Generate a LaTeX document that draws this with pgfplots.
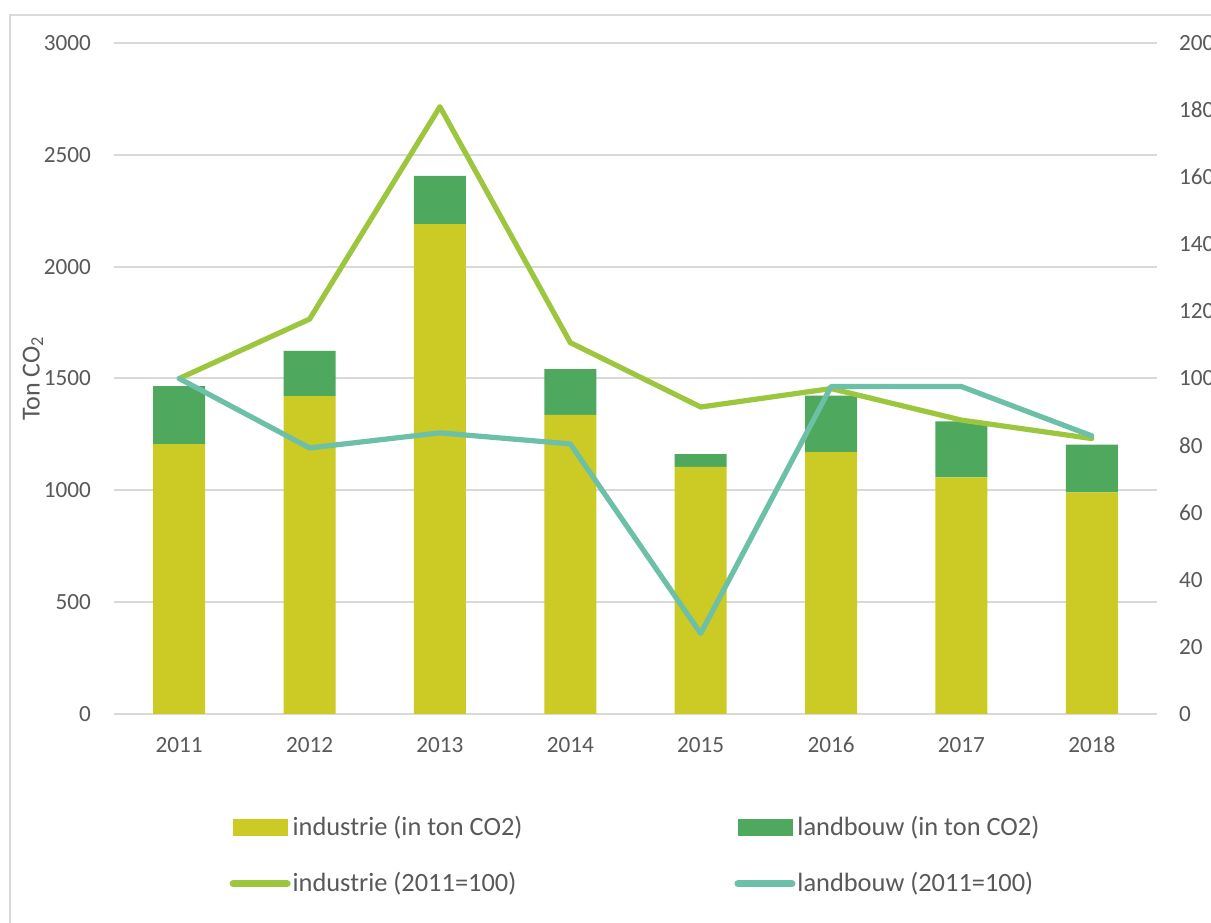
\documentclass[border=0pt]{standalone}
\usepackage{pgfplots}
\pgfplotsset{compat=1.18}
\usepackage{fontspec}
\setmainfont{Carlito}
\definecolor{ind}{HTML}{CCCA24}
\definecolor{lan}{HTML}{4EA85E}
\definecolor{indl}{HTML}{9DC63F}
\definecolor{lanl}{HTML}{6CC0A8}
\definecolor{txt}{HTML}{595959}
\definecolor{gridc}{HTML}{D9D9D9}
\begin{document}
\begin{tikzpicture}
\useasboundingbox (0,0) rectangle (605.5pt,461pt);
\clip (0,0) rectangle (605.5pt,461pt);
\fill[white] (0,0) rectangle (605.5pt,461pt);
\draw[gridc, line width=1pt] (5pt,-20pt) -- (5pt,453.5pt) -- (640pt,453.5pt);
\begin{axis}[
 at={(57pt,104pt)}, anchor=south west,
 scale only axis, width=521.5pt, height=335.5pt,
 xmin=-0.5, xmax=7.5, ymin=0, ymax=3000,
 ybar stacked, bar width=26pt,
 xtick={0,1,2,3,4,5,6,7},
 xticklabels={2011,2012,2013,2014,2015,2016,2017,2018},
 ytick={0,500,1000,1500,2000,2500,3000},
 axis y line*=left, axis x line*=bottom,
 axis line style={draw=none},
 major tick length=0pt,
 ymajorgrids, grid style={gridc, line width=1pt},
 tick label style={font=\fontsize{11.6}{14}\selectfont, text=txt},
 /pgf/number format/assume math mode=true,
 /pgf/number format/1000 sep={},
 yticklabel style={xshift=-8pt},
 xticklabel style={yshift=-8pt},
 ylabel={Ton CO\textsubscript{2}},
 ylabel style={font=\fontsize{13}{15}\selectfont, text=txt, at={(axis description cs:-0.0777,0.5)}, anchor=center},
]
\addplot[fill=ind, draw=none] coordinates {(0,1207) (1,1421) (2,2190) (3,1337) (4,1105) (5,1171) (6,1058) (7,991)};
\addplot[fill=lan, draw=none] coordinates {(0,259) (1,203) (2,216) (3,205) (4,57) (5,252) (6,250) (7,213)};
\end{axis}
\begin{axis}[
 at={(57pt,104pt)}, anchor=south west,
 scale only axis, width=521.5pt, height=335.5pt,
 xmin=-0.5, xmax=7.5, ymin=0, ymax=200,
 axis y line*=right, axis x line=none,
 axis line style={draw=none},
 major tick length=0pt,
 ytick={0,20,40,60,80,100,120,140,160,180,200},
 tick label style={font=\fontsize{11.6}{14}\selectfont, text=txt},
 /pgf/number format/assume math mode=true,
 yticklabel style={xshift=7.5pt},
 legend columns=2,
 legend cell align=left,
 legend style={draw=none, fill=none, at={(0.5,-0.143)}, anchor=north,
   font=\fontsize{13.2}{16}\selectfont, text=txt,
   nodes={inner sep=1pt},
   /tikz/every even column/.append style={column sep=105pt},
   row sep=15pt},
]
\addlegendimage{legend image code/.code={\fill[ind] (0pt,-4pt) rectangle (27pt,4pt);}}
\addlegendentry{industrie (in ton CO2)}
\addlegendimage{legend image code/.code={\fill[lan] (0pt,-4pt) rectangle (27pt,4pt);}}
\addlegendentry{landbouw (in ton CO2)}
\addplot[indl, line width=2.6pt, line join=round, line cap=round,
  legend image code/.code={\draw[indl, line width=3.5pt, line cap=round] (0pt,0pt) -- (27pt,0pt);}]
  coordinates {(0,100) (1,117.7) (2,181) (3,110.7) (4,91.5) (5,97.0) (6,87.6) (7,82.1)};
\addlegendentry{industrie (2011=100)}
\addplot[lanl, line width=2.6pt, line join=round, line cap=round,
  legend image code/.code={\draw[lanl, line width=3.5pt, line cap=round] (0pt,0pt) -- (27pt,0pt);}]
  coordinates {(0,100) (1,79.3) (2,83.8) (3,80.5) (4,24.0) (5,97.6) (6,97.6) (7,82.9)};
\addlegendentry{landbouw (2011=100)}
\end{axis}
\end{tikzpicture}
\end{document}
